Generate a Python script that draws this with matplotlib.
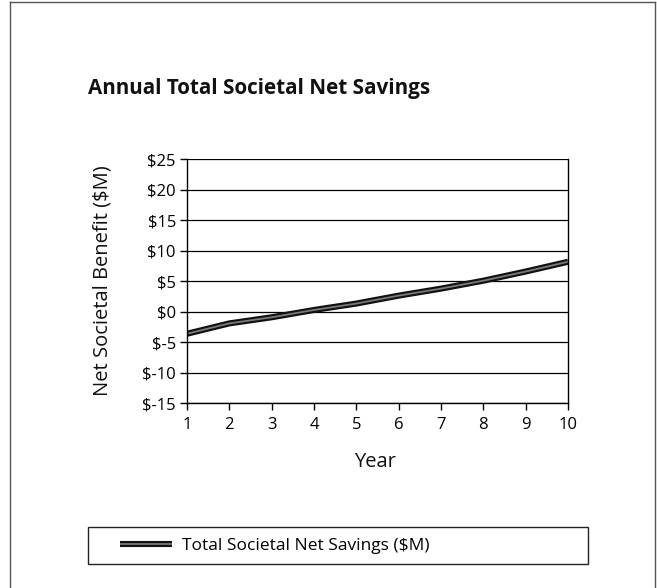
import numpy as np
import matplotlib.pyplot as plt
import matplotlib.patheffects as pe
from matplotlib.patches import Rectangle

plt.rcParams['font.family'] = ['Open Sans', 'DejaVu Sans']

# data
years = [1, 2, 3, 4, 5, 6, 7, 8, 9, 10]
net_savings = [-3.6, -1.9, -0.9, 0.3, 1.35, 2.65, 3.8, 5.1, 6.6, 8.2]
y_ticks = [-15, -10, -5, 0, 5, 10, 15, 20, 25]
y_labels = ['$' + str(v) for v in y_ticks]

W, H = 657, 588
fig = plt.figure(figsize=(W / 100, H / 100), dpi=100)
ax = fig.add_axes([187 / W, 1 - 403.3 / H, (568 - 187) / W, (403.3 - 159.3) / H])

line, = ax.plot(years, net_savings, color='#7a7a7a', lw=1.3,
                label='Total Societal Net Savings ($M)', solid_capstyle='butt',
                path_effects=[pe.Stroke(linewidth=4.4, foreground='#111111'), pe.Normal()])

ax.set_xlim(1, 10)
ax.set_ylim(-15, 25)
ax.set_xticks(years)
ax.set_yticks(y_ticks)
ax.set_yticklabels(y_labels)
ax.yaxis.grid(True, color='black', lw=0.9)
ax.set_axisbelow(True)
for s in ax.spines.values():
    s.set_color('black')
    s.set_linewidth(1.0)
ax.spines['top'].set_visible(False)
ax.tick_params(axis='both', direction='out', length=5, width=1, color='black',
               labelsize=12, pad=3)
ax.tick_params(axis='x', pad=5)

# titles and axis labels
fig.text(88 / W, 1 - 94 / H, 'Annual Total Societal Net Savings', fontsize=14.9,
         fontweight='bold', ha='left', va='baseline', color='#111111')
fig.text(102.6 / W, 1 - 281 / H, 'Net Societal Benefit ($M)', fontsize=14.5,
         rotation=90, ha='center', va='center', color='#111111')
fig.text(375 / W, 1 - 462 / H, 'Year', fontsize=14.5, ha='center', va='center',
         color='#111111')

# legend box
fig.add_artist(Rectangle((88 / W, 1 - 564 / H), 500 / W, 37 / H, transform=fig.transFigure,
                         fill=False, edgecolor='#222222', lw=1.0))
fig.legend(handles=[line], loc='center left', bbox_to_anchor=(120 / W, 1 - 545.5 / H),
           frameon=False, fontsize=12.5, handlelength=3.0, handletextpad=0.6,
           borderpad=0, borderaxespad=0)

# outer frame
fig.add_artist(plt.Line2D([10 / W, 10 / W], [0, 1 - 2 / H], color='#555555', lw=1))
fig.add_artist(plt.Line2D([10 / W, 655 / W], [1 - 2 / H, 1 - 2 / H], color='#555555', lw=1))
fig.add_artist(plt.Line2D([655 / W, 655 / W], [0, 1 - 2 / H], color='#555555', lw=1))

fig.savefig('out.png', dpi=100)
